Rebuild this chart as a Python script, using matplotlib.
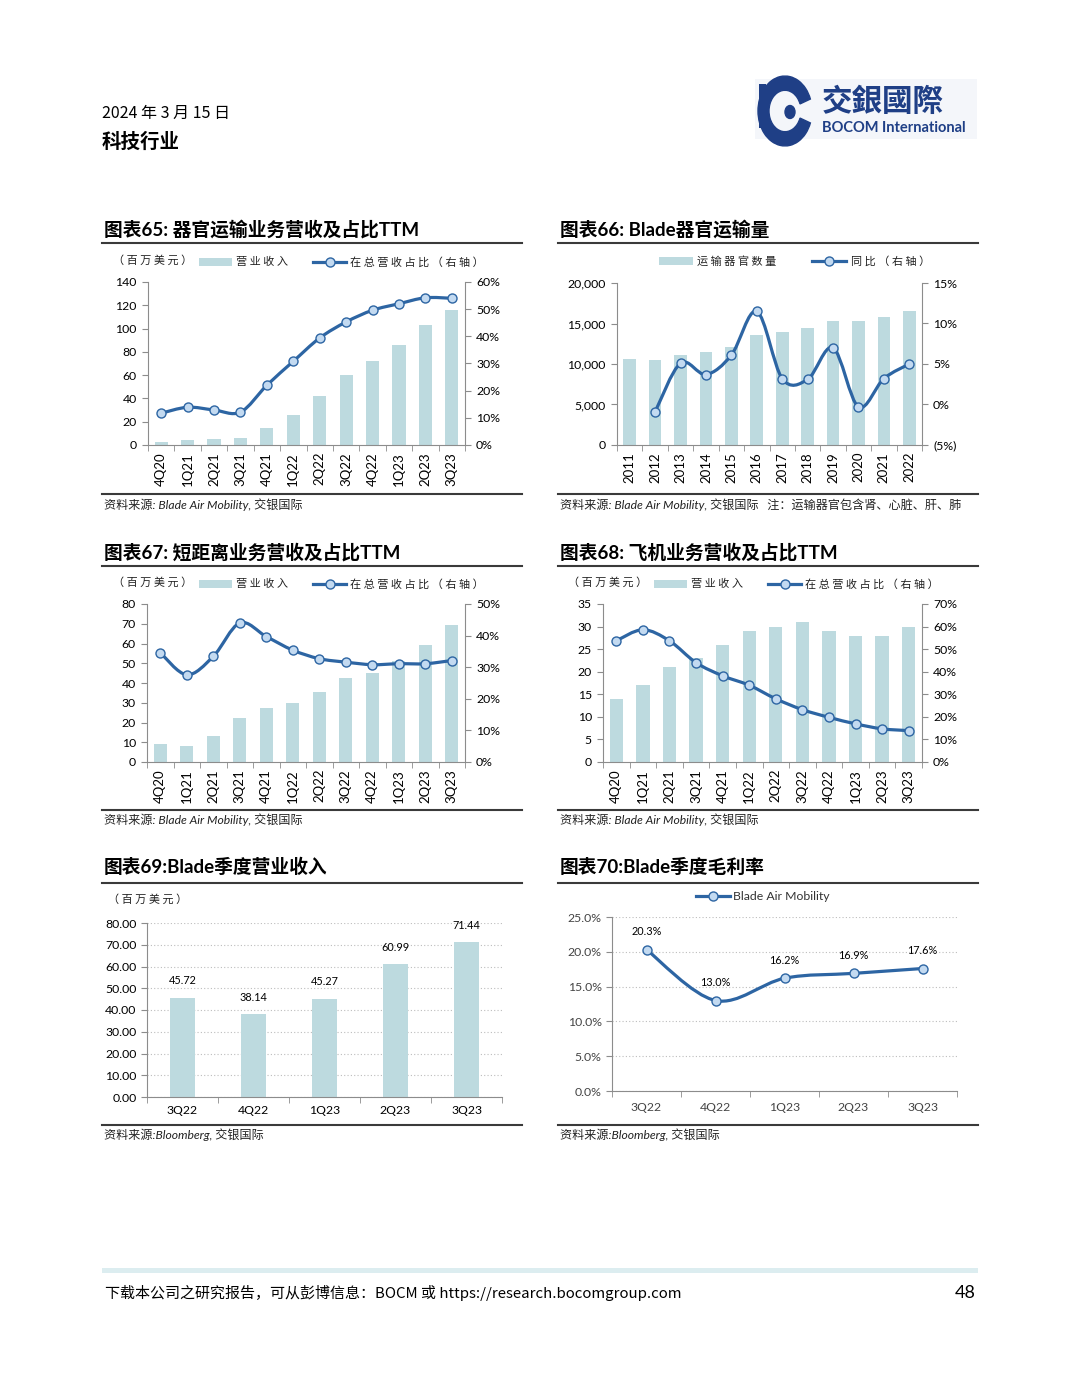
# Blade Air Mobility page (BOCOM International, p.48): six charts on one page.
import matplotlib
matplotlib.use("Agg")
import matplotlib.pyplot as plt
import numpy as np
from matplotlib.path import Path
from matplotlib.patches import PathPatch, Rectangle, Circle, Wedge
from matplotlib.lines import Line2D
from matplotlib.ticker import FuncFormatter

BAR = "#bddadf"; LINE = "#2d65a3"; MFACE = "#c3daf1"; INK = "#111111"; SP = "#8c8c8c"
NAVY = "#1f3f86"

plt.rcParams["font.family"] = ["Lato", "Noto Sans CJK SC", "DejaVu Sans"]
plt.rcParams["font.size"] = 8.5

# ---------------------------------------------------------------- data
quarters = ["4Q20", "1Q21", "2Q21", "3Q21", "4Q21", "1Q22", "2Q22", "3Q22", "4Q22", "1Q23", "2Q23", "3Q23"]

# 65: organ transport revenue (TTM, $m) and share of total
organ_rev = [3, 4, 5, 6, 15, 26, 42, 60, 72, 86, 103, 116]
organ_share = [11.7, 13.9, 12.9, 12.1, 22.0, 30.8, 39.4, 45.3, 49.6, 52.0, 54.2, 54.0]

# 66: organs transported per year and YoY
years = ["2011", "2012", "2013", "2014", "2015", "2016", "2017", "2018", "2019", "2020", "2021", "2022"]
organ_count = [10600, 10500, 11050, 11420, 12120, 13530, 13900, 14390, 15300, 15300, 15750, 16500]
organ_yoy = [-0.9, 5.1, 3.7, 6.1, 11.5, 3.2, 3.1, 7.0, -0.3, 3.2, 5.0]  # from 2012

# 67: short distance revenue (TTM) and share
short_rev = [9.3, 8.2, 13.3, 22.2, 27.1, 30.1, 35.2, 42.3, 45.3, 51.0, 59.1, 69.2]
short_share = [34.6, 27.6, 33.4, 44.0, 39.7, 35.4, 32.7, 31.6, 30.8, 31.1, 31.1, 32.1]

# 68: jet revenue (TTM) and share
jet_rev = [14, 17, 21, 23, 26, 29, 30, 31, 29, 28, 28, 30]
jet_share = [53.7, 58.6, 53.7, 44.0, 38.2, 34.0, 28.0, 23.2, 19.8, 16.9, 14.7, 13.9]

# 69 / 70: quarterly revenue and gross margin
q5 = ["3Q22", "4Q22", "1Q23", "2Q23", "3Q23"]
q_rev = [45.72, 38.14, 45.27, 60.99, 71.44]
q_gm = [20.3, 13.0, 16.2, 16.9, 17.6]

# ---------------------------------------------------------------- helpers
W, H = 1080, 1398
fig = plt.figure(figsize=(W / 100, H / 100), dpi=100)
fig.patch.set_facecolor("white")

def fx(x): return x / W
def fy(y): return 1 - y / H
def rect(l, t, r, b): return [l / W, 1 - b / H, (r - l) / W, (b - t) / H]
def T(x, y, s, **kw):
    kw.setdefault("va", "center")
    fig.text(fx(x), fy(y), s, **kw)
def hline(x0, x1, y, lw=1.5, c="#3a3a3a"):
    fig.add_artist(Line2D([fx(x0), fx(x1)], [fy(y), fy(y)], color=c, lw=lw))
def sp(s):  # letter-spaced legend text, as in the source PDF
    return " ".join(s)

def smooth(xs, ys):
    # Excel-style smoothed polyline through the data points (bezier segments)
    v = [(xs[0], ys[0])]; c = [Path.MOVETO]; n = len(xs)
    for i in range(n - 1):
        p0 = (xs[i - 1], ys[i - 1]) if i > 0 else (xs[i], ys[i])
        p1 = (xs[i], ys[i]); p2 = (xs[i + 1], ys[i + 1])
        p3 = (xs[i + 2], ys[i + 2]) if i + 2 < n else p2
        c1 = (p1[0] + (p2[0] - p0[0]) / 6, p1[1] + (p2[1] - p0[1]) / 6)
        c2 = (p2[0] - (p3[0] - p1[0]) / 6, p2[1] - (p3[1] - p1[1]) / 6)
        v += [c1, c2, p2]; c += [Path.CURVE4] * 3
    return Path(v, c)

def draw_line(ax, xs, ys):
    ax.add_patch(PathPatch(smooth(list(xs), list(ys)), fill=False, ec=LINE, lw=2.3, zorder=3))
    ax.plot(xs, ys, "o", ls="none", ms=6.5, mfc=MFACE, mec=LINE, mew=1.0, zorder=4)

def cat_axis(ax, cats, rot=90, pad=5, size=9.5):
    n = len(cats)
    ax.set_xlim(-0.5, n - 0.5)
    ax.set_xticks(np.arange(n)); ax.set_xticklabels(cats, rotation=rot)
    ax.set_xticks(np.arange(-0.5, n), minor=True)
    ax.tick_params(axis="x", which="major", length=0, pad=pad, labelsize=size)
    ax.tick_params(axis="x", which="minor", length=4, color=SP, direction="out")

def dual_panel(r, cats, bars, line, lmax, lstep, rmin, rmax, rstep, lfmt, rfmt, line_x=None):
    ax = fig.add_axes(rect(*r))
    x = np.arange(len(cats))
    ax.bar(x, bars, width=0.5, color=BAR, zorder=2)
    cat_axis(ax, cats)
    ax.set_ylim(0, lmax); ax.set_yticks(np.arange(0, lmax + 0.1, lstep))
    ax.yaxis.set_major_formatter(FuncFormatter(lfmt))
    ax.tick_params(axis="y", length=4, color=SP, labelsize=8.8, pad=4)
    for s in ("top", "right"): ax.spines[s].set_visible(False)
    for s in ("left", "bottom"): ax.spines[s].set_color(SP)
    ax2 = ax.twinx()
    ax2.set_ylim(rmin, rmax); ax2.set_yticks(np.arange(rmin, rmax + 0.1, rstep))
    ax2.yaxis.set_major_formatter(FuncFormatter(rfmt))
    ax2.tick_params(axis="y", length=4, color=SP, labelsize=8.8, pad=4)
    for s in ("top", "left", "bottom"): ax2.spines[s].set_visible(False)
    ax2.spines["right"].set_color(SP)
    lx = x if line_x is None else line_x
    draw_line(ax2, lx, line)
    return ax, ax2

def legend_bar(x0, x1, y):
    fig.add_artist(Rectangle((fx(x0), fy(y + 4)), (x1 - x0) / W, 8 / H, color=BAR, lw=0))
def legend_line(x0, x1, y):
    fig.add_artist(Line2D([fx(x0), fx(x1)], [fy(y), fy(y)], color=LINE, lw=2.3))
    fig.add_artist(Line2D([fx((x0 + x1) / 2)], [fy(y)], marker="o", ms=6.5, mfc=MFACE,
                          mec=LINE, mew=1.0, ls="none"))

LEG = dict(fontsize=8, color="#222222", family=["Noto Sans CJK SC", "Lato"])
TTL = dict(fontsize=13.5, fontweight="bold", color="#000000")
SRC = dict(fontsize=8.7, style="italic", color="#222222")

def pct0(v, _): return f"{v:.0f}%"
def num0(v, _): return f"{v:.0f}"

# ---------------------------------------------------------------- header / logo
T(102, 113, "2024 年 3 月 15 日", fontsize=11.5, family=["Noto Sans CJK SC"])
T(102, 142, "科技行业", fontsize=14, fontweight="bold", family=["Noto Sans CJK SC"])
fig.add_artist(Rectangle((fx(755), fy(139)), 222 / W, 60 / H, color="#f4f6fa", lw=0))
fig.add_artist(Wedge((fx(785), fy(111)), 27 / W, 20, 340, width=11 / W, color=NAVY))
fig.add_artist(Rectangle((fx(759), fy(128)), 7 / W, 44 / H, color=NAVY, lw=0))
fig.add_artist(Circle((fx(790), fy(112)), 5 / W, color=NAVY))
T(822, 102, "交銀國際", fontsize=22, fontweight="bold", color=NAVY, family=["Noto Sans CJK TC"])
T(822, 128, "BOCOM International", fontsize=10.5, fontweight="bold", color=NAVY)

# ---------------------------------------------------------------- 65
T(104, 229, "图表65: 器官运输业务营收及占比TTM", **TTL)
hline(102, 522, 243)
T(113, 260, sp("（百万美元）"), **LEG)
legend_bar(199, 232, 262); T(236, 262, sp("营业收入"), **LEG)
legend_line(313, 346, 262); T(350, 262, sp("在总营收占比（右轴）"), **LEG)
dual_panel((148, 282, 465, 445), quarters, organ_rev, organ_share, 140, 20, 0, 60, 10, num0, pct0)
hline(102, 522, 494)
T(104, 505, "资料来源: Blade Air Mobility, 交银国际", **SRC)

# ---------------------------------------------------------------- 66
T(560, 229, "图表66: Blade器官运输量", **TTL)
hline(558, 978, 243)
legend_bar(659, 693, 261); T(697, 261, sp("运输器官数量"), **LEG)
legend_line(812, 846, 261); T(851, 261, sp("同比（右轴）"), **LEG)
dual_panel((617, 283, 922, 445), years, organ_count, organ_yoy, 20000, 5000, -5, 15, 5,
           lambda v, _: f"{v:,.0f}",
           lambda v, _: f"({abs(v):.0f}%)" if v < 0 else f"{v:.0f}%",
           line_x=np.arange(1, len(years)))
hline(558, 978, 494)
T(560, 505, "资料来源: Blade Air Mobility, 交银国际   注：运输器官包含肾、心脏、肝、肺", **SRC)

# ---------------------------------------------------------------- 67
T(104, 552, "图表67: 短距离业务营收及占比TTM", **TTL)
hline(102, 522, 566)
T(113, 582, sp("（百万美元）"), **LEG)
legend_bar(199, 232, 584); T(236, 584, sp("营业收入"), **LEG)
legend_line(313, 346, 584); T(350, 584, sp("在总营收占比（右轴）"), **LEG)
dual_panel((147, 604, 465, 762), quarters, short_rev, short_share, 80, 10, 0, 50, 10, num0, pct0)
hline(102, 522, 810)
T(104, 820, "资料来源: Blade Air Mobility, 交银国际", **SRC)

# ---------------------------------------------------------------- 68
T(560, 552, "图表68: 飞机业务营收及占比TTM", **TTL)
hline(558, 978, 566)
T(568, 582, sp("（百万美元）"), **LEG)
legend_bar(654, 687, 584); T(691, 584, sp("营业收入"), **LEG)
legend_line(768, 801, 584); T(805, 584, sp("在总营收占比（右轴）"), **LEG)
dual_panel((603, 604, 922, 762), quarters, jet_rev, jet_share, 35, 5, 0, 70, 10, num0, pct0)
hline(558, 978, 810)
T(560, 820, "资料来源: Blade Air Mobility, 交银国际", **SRC)

# ---------------------------------------------------------------- 69
T(104, 867, "图表69:Blade季度营业收入", **TTL)
hline(102, 522, 883)
T(108, 899, sp("（百万美元）"), **LEG)
ax = fig.add_axes(rect(147, 923, 502, 1097))
x = np.arange(len(q5))
bars = ax.bar(x, q_rev, width=0.36, color=BAR, zorder=2)
for b, v in zip(bars, q_rev):
    ax.annotate(f"{v:.2f}", (b.get_x() + b.get_width() / 2, v), xytext=(0, 8),
                textcoords="offset points", ha="center", va="bottom", fontsize=7.8)
cat_axis(ax, q5, rot=0, pad=6, size=8.8)
ax.set_ylim(0, 80); ax.set_yticks(np.arange(0, 81, 10))
ax.yaxis.set_major_formatter(FuncFormatter(lambda v, _: f"{v:.2f}"))
ax.tick_params(axis="y", length=4, color=SP, labelsize=8.8)
ax.grid(axis="y", ls=(0, (1, 2)), color="#bdbdbd", lw=0.8, zorder=0)
for s in ("top", "right"): ax.spines[s].set_visible(False)
for s in ("left", "bottom"): ax.spines[s].set_color(SP)
hline(102, 522, 1125)
T(104, 1135, "资料来源:Bloomberg, 交银国际", **SRC)

# ---------------------------------------------------------------- 70
T(560, 867, "图表70:Blade季度毛利率", **TTL)
hline(558, 978, 883)
legend_line(696, 730, 896); T(733, 896, "Blade Air Mobility", fontsize=8.8, color="#333333")
ax = fig.add_axes(rect(612, 917, 957, 1091))
draw_line(ax, x, q_gm)
for xi, v in zip(x, q_gm):
    ax.annotate(f"{v:.1f}%", (xi, v), xytext=(0, 13), textcoords="offset points",
                ha="center", va="center", fontsize=7.8)
cat_axis(ax, q5, rot=0, pad=8, size=8.8)
ax.set_ylim(0, 25); ax.set_yticks(np.arange(0, 25.1, 5))
ax.yaxis.set_major_formatter(FuncFormatter(lambda v, _: f"{v:.1f}%"))
ax.tick_params(axis="y", length=4, color=SP, labelsize=8.8, labelcolor="#444444")
ax.tick_params(axis="x", labelcolor="#444444")
ax.grid(axis="y", ls=(0, (1, 2)), color="#bdbdbd", lw=0.8, zorder=0)
for s in ("top", "right"): ax.spines[s].set_visible(False)
for s in ("left", "bottom"): ax.spines[s].set_color(SP)
hline(558, 978, 1125)
T(560, 1135, "资料来源:Bloomberg, 交银国际", **SRC)

# ---------------------------------------------------------------- footer
fig.add_artist(Rectangle((fx(102), fy(1273)), 876 / W, 5 / H, color="#dcedf0", lw=0))
T(105, 1293, "下载本公司之研究报告，可从彭博信息：BOCM 或 https://research.bocomgroup.com",
  fontsize=10.8, family=["Noto Sans CJK SC"])
T(976, 1293, "48", fontsize=13, ha="right")

fig.savefig("out.png", dpi=100, facecolor="white")
